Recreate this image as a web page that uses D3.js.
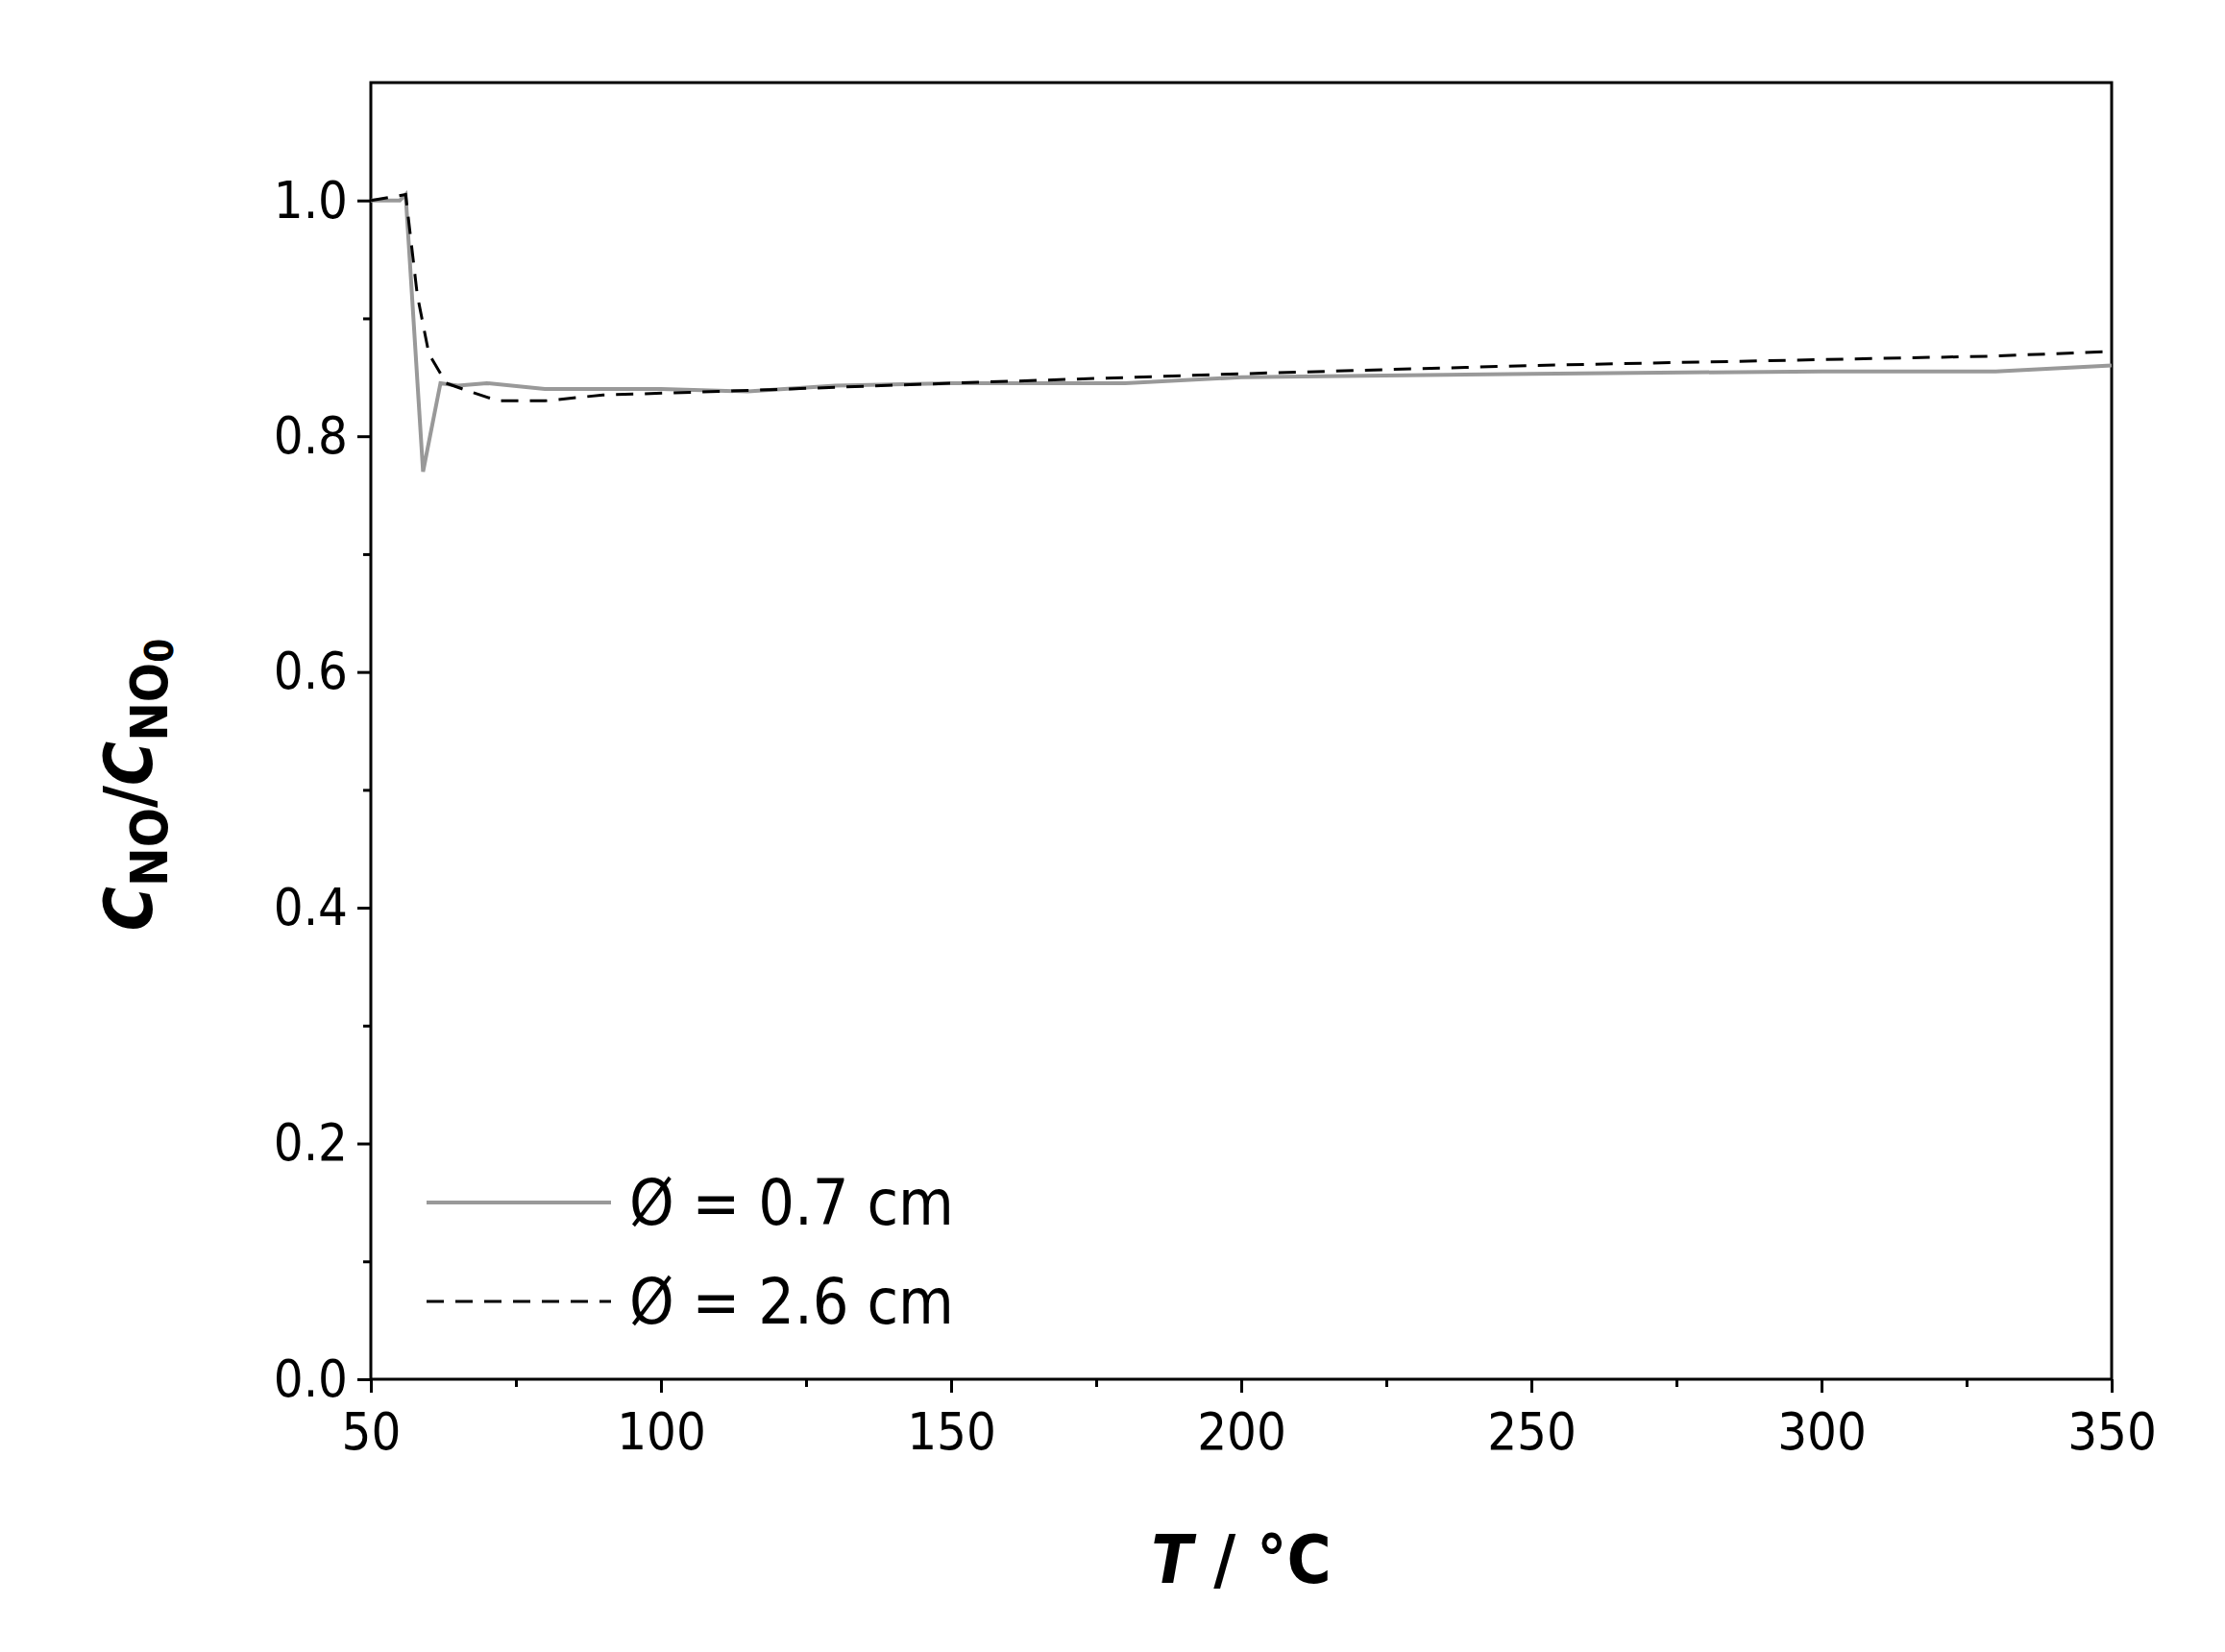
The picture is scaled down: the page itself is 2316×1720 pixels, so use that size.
<!DOCTYPE html><html><head><meta charset="utf-8"><script src="https://cdn.jsdelivr.net/npm/d3@7"></script>
<style>body{margin:0;background:#fff}</style></head><body><svg id="c" width="2316" height="1720"></svg><script>
const xTicks=[50,100,150,200,250,300,350];
const yTicks=[0,0.2,0.4,0.6,0.8,1.0];
const graySeries=[[50,1.0],[55,1.0],[56,1.005],[59,0.77],[62,0.845],[65,0.843],[70,0.845],[80,0.84],[100,0.84],[115,0.838],[130,0.843],[150,0.845],[180,0.845],[200,0.85],[250,0.853],[300,0.855],[330,0.855],[350,0.86]];
const dashSeries=[[50,1.0],[56,1.005],[58,0.92],[60,0.87],[63,0.845],[67,0.838],[72,0.83],[80,0.83],[90,0.835],[110,0.838],[150,0.845],[200,0.853],[250,0.86],[300,0.865],[330,0.868],[350,0.872]];
const legendLabels=["Ø = 0.7 cm","Ø = 2.6 cm"];
const svg=d3.select("#c");
const L=386,R=2198,T=86,B=1436;
const x=d3.scaleLinear().domain([50,350]).range([L,R]);
const y=d3.scaleLinear().domain([0,1.1]).range([B,T]);
const font="'DejaVu Sans Condensed','DejaVu Sans',sans-serif";
svg.append("rect").attr("x",L).attr("y",T).attr("width",R-L).attr("height",B-T).attr("fill","none").attr("stroke","#000").attr("stroke-width",3);
const xa=svg.append("g").attr("transform",`translate(0,${B})`).call(d3.axisBottom(x).tickValues(xTicks).tickSize(14).tickPadding(10).tickFormat(d3.format("d")));
svg.append("g").attr("transform",`translate(0,${B})`).call(d3.axisBottom(x).tickValues(d3.range(75,350,50)).tickSize(8).tickFormat(""));
const ya=svg.append("g").attr("transform",`translate(${L},0)`).call(d3.axisLeft(y).tickValues(yTicks).tickSize(14).tickPadding(10).tickFormat(d3.format(".1f")));
svg.append("g").attr("transform",`translate(${L},0)`).call(d3.axisLeft(y).tickValues([0.1,0.3,0.5,0.7,0.9]).tickSize(8).tickFormat(""));
svg.selectAll(".domain").remove();
svg.selectAll(".tick line").attr("stroke-width",3);
svg.selectAll(".tick text").attr("font-family",font).attr("font-size",54).attr("fill","#000");
xa.selectAll(".tick text").attr("dy","0.9em");
const line=d3.line().x(d=>x(d[0])).y(d=>y(d[1]));
svg.append("path").datum(graySeries).attr("d",line).attr("fill","none").attr("stroke","#999").attr("stroke-width",4);
svg.append("path").datum(dashSeries).attr("d",line).attr("fill","none").attr("stroke","#000").attr("stroke-width",3).attr("stroke-dasharray","18,12");
const leg=[{y:1252,s:"#999",w:4,da:null},{y:1355,s:"#000",w:3,da:"18,12"}];
leg.forEach((l,i)=>{svg.append("line").attr("x1",444).attr("x2",636).attr("y1",l.y).attr("y2",l.y).attr("stroke",l.s).attr("stroke-width",l.w).attr("stroke-dasharray",l.da);
svg.append("text").attr("x",655).attr("y",l.y).attr("dy","0.35em").attr("font-family",font).attr("font-size",66).text(legendLabels[i]);});
const xl=svg.append("text").attr("x",1292).attr("y",1648).attr("text-anchor","middle").attr("font-family",font).attr("font-weight","bold").attr("font-size",70);
xl.append("tspan").attr("font-style","italic").text("T");xl.append("tspan").text(" / °C");
const yl=svg.append("text").attr("transform","translate(158,817) rotate(-90)").attr("text-anchor","middle").attr("font-family",font).attr("font-weight","bold").attr("font-size",70);
yl.append("tspan").attr("font-style","italic").text("C");yl.append("tspan").attr("dy",16).attr("font-size",54).text("NO");
yl.append("tspan").attr("dy",-16).text("/");yl.append("tspan").attr("font-style","italic").text("C");
yl.append("tspan").attr("dy",16).attr("font-size",54).text("NO");yl.append("tspan").attr("font-size",40).attr("dy",6).text("0");
</script></body></html>
